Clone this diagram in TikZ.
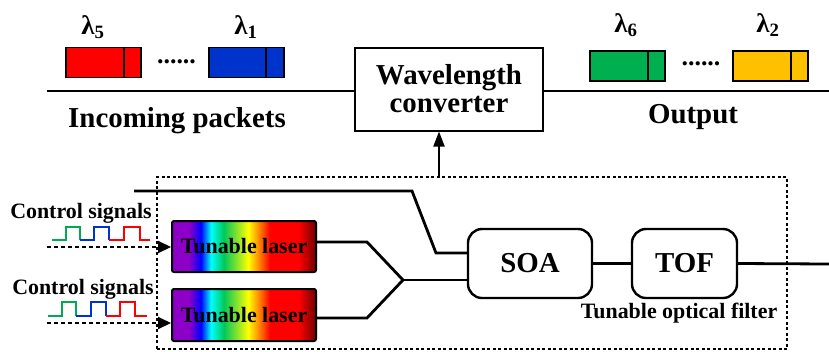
\documentclass[tikz,border=0pt]{standalone}
\usepackage{fontspec}
\setmainfont{Liberation Serif}
\usetikzlibrary{arrows.meta,calc}
\definecolor{rbvio}{RGB}{140,0,200}
\definecolor{rbblue}{RGB}{0,0,255}
\definecolor{rbcyan}{RGB}{0,255,255}
\definecolor{rbgreen}{RGB}{0,200,90}
\definecolor{rbyg}{RGB}{150,230,40}
\definecolor{rbyellow}{RGB}{255,255,0}
\definecolor{rborange}{RGB}{255,140,0}
\definecolor{rbred}{RGB}{255,0,0}
\definecolor{rbdark}{RGB}{110,0,0}
\definecolor{pred}{RGB}{255,0,0}
\definecolor{pblue}{RGB}{0,51,204}
\definecolor{pgreen}{RGB}{0,176,80}
\definecolor{porange}{RGB}{255,192,0}
\definecolor{wgreen}{RGB}{0,170,80}
\definecolor{wblue}{RGB}{0,50,210}
\pgfdeclarehorizontalshading{rainbow}{100bp}{color(0bp)=(rbvio); color(25bp)=(rbvio); color(31bp)=(rbvio); color(35bp)=(rbblue); color(38.5bp)=(rbcyan); color(43bp)=(rbgreen); color(48bp)=(rbyg); color(51.5bp)=(rbyellow); color(55bp)=(rborange); color(59bp)=(rbred); color(69bp)=(rbred); color(75bp)=(rbdark); color(100bp)=(rbdark)}
\tikzset{
  wire/.style={line width=2.8bp},
  pkt/.style={draw, line width=1.8bp, minimum width=75bp, minimum height=30bp, inner sep=0pt},
  divider/.style={line width=1.8bp},
  block/.style={draw, line width=2.4bp, rounded corners=14bp, inner sep=0pt, font=\fontsize{29}{30}\selectfont\bfseries},
  laserbox/.style={draw, line width=2bp, rounded corners=2bp, shade, shading=rainbow, minimum width=144bp, minimum height=51bp, inner sep=0pt, font=\fontsize{22}{24}\selectfont\bfseries},
  bigtext/.style={font=\fontsize{29}{30}\selectfont\bfseries},
  lam/.style={font=\fontsize{27}{28}\selectfont\bfseries},
  midtext/.style={font=\fontsize{22}{24}\selectfont\bfseries},
  dotstext/.style={font=\fontsize{26}{26}\selectfont\bfseries, inner sep=0pt},
  ctrl/.style={line width=2bp, dash pattern=on 4bp off 3bp, -{Triangle[length=13bp,width=12bp]}},
  wave/.style={line width=2bp},
  encl/.style={draw, line width=1.6bp, dash pattern=on 3bp off 2.5bp, inner sep=0pt}
}
\begin{document}
\begin{tikzpicture}[x=1bp,y=-1bp]
\useasboundingbox (0,0) rectangle (829,351);

% dashed enclosure
\node[encl, minimum width=630bp, minimum height=172bp] (dbox) at (472,263) {};

% wavelength converter
\node[draw, line width=2bp, minimum width=188bp, minimum height=83bp, align=center, bigtext, inner sep=0pt] (conv) at (449,89) {Wavelength\\[-2pt]converter};

% main line
\coordinate (inL) at (47,91);
\coordinate (outR) at (829,91);
\draw[wire] (inL) -- (inL -| conv.west);
\draw[wire] (conv.east |- outR) -- (outR);

% packets
\node[pkt, fill=pred] (p5) at (103.5,62.5) {};
\draw[divider] ([xshift=-18bp]p5.north east) -- ([xshift=-18bp]p5.south east);
\node[pkt, fill=pblue] (p1) at (246.5,62.5) {};
\draw[divider] ([xshift=-19bp]p1.north east) -- ([xshift=-19bp]p1.south east);
\node[pkt, fill=pgreen] (p6) at (627.5,66) {};
\draw[divider] ([xshift=-18bp]p6.north east) -- ([xshift=-18bp]p6.south east);
\node[pkt, fill=porange] (p2) at (770.5,66) {};
\draw[divider] ([xshift=-18bp]p2.north east) -- ([xshift=-18bp]p2.south east);

\node[lam] (l5) at (93,27) {λ\textsubscript{5}};
\node[lam] (l1) at (246,27) {λ\textsubscript{1}};
\node[lam] (l6) at (626,25) {λ\textsubscript{6}};
\node[lam] (l2) at (768,25) {λ\textsubscript{2}};

\node[dotstext, anchor=base] (d1) at (176.5,63) {......};
\node[dotstext, anchor=base] (d2) at (701,65) {......};

\node[bigtext] (inc) at (177,121) {Incoming packets};
\node[bigtext] (outp) at (693,117) {Output};

% arrow to converter
\coordinate (up) at (439,177);
\draw[line width=2bp, -{Triangle[length=15bp,width=11bp]}] (up) -- (up |- conv.south);

% SOA and TOF
\node[block, minimum width=124bp, minimum height=69bp] (soa) at (530,263.5) {SOA};
\node[block, minimum width=105bp, minimum height=69bp] (tof) at (684.5,263.5) {TOF};
\coordinate (out2) at (829,264);
\draw[wire] (soa.east) -- (tof.west);
\draw[wire] (tof.east) -- (out2);
\node[midtext] (tofl) at (679,313) {Tunable optical filter};

% top signal line
\coordinate (t0) at (134,191);
\coordinate (t1) at (412,191);
\coordinate (t2) at (436,253);
\draw[wire] (t0) -- (t1) -- (t2) -- (t2 -| soa.west);

% lasers
\node[laserbox] (laser1) at (244,246.5) {Tunable laser};
\node[laserbox, minimum height=52bp] (laser2) at (244,315) {Tunable laser};
\coordinate (j1) at (367,242);
\coordinate (j2) at (367,318);
\coordinate (comb) at (403,280);
\draw[wire] (laser1.east |- j1) -- (j1) -- (comb);
\draw[wire] (laser2.east |- j2) -- (j2) -- (comb);
\draw[wire] (comb) -- (comb -| soa.west);

% control signals
\node[midtext] (cs1t) at (81,213) {Control signals};
\node[midtext] (cs2t) at (83,289) {Control signals};
\coordinate (cs1) at (47,247);
\coordinate (cs2) at (47,323);
\draw[ctrl] (cs1) -- (cs1 -| laser1.west);
\draw[ctrl] (cs2) -- (cs2 -| laser2.west);

% square waves
\draw[wave, wgreen] (52,240) -- (66,240) -- (66,227) -- (80,227) -- (80,240);
\draw[wave, wblue] (80,240) -- (94,240) -- (94,227) -- (109,227) -- (109,240);
\draw[wave, red] (109,240) -- (124,240) -- (124,227) -- (140,227) -- (140,240) -- (150,240);
\draw[wave, wgreen] (48,316) -- (62,316) -- (62,302) -- (76,302) -- (76,316);
\draw[wave, wblue] (76,316) -- (91,316) -- (91,302) -- (106,302) -- (106,316);
\draw[wave, red] (106,316) -- (120,316) -- (120,302) -- (135,302) -- (135,316) -- (147,316);
\end{tikzpicture}
\end{document}
